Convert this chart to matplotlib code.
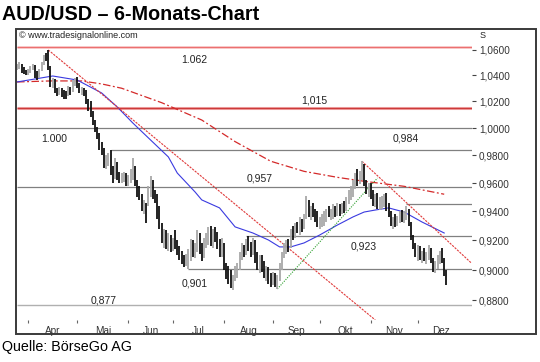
import numpy as np
import pandas as pd
import matplotlib
matplotlib.use("Agg")
import matplotlib.pyplot as plt
from matplotlib.ticker import NullLocator, NullFormatter
from matplotlib.patches import Rectangle

plt.rcParams['font.family'] = ['Liberation Sans', 'DejaVu Sans']

# daily AUD/USD bars, 25.03. - 19.12.2013
dates = pd.bdate_range('2013-03-25', '2013-12-19')

high = [1.0490, 1.0500, 1.0490, 1.0460, 1.0440, 1.0450, 1.0475, 1.0490, 1.0480, 1.0430,
        1.0450, 1.0500, 1.0560, 1.0570, 1.0597, 1.0470, 1.0380, 1.0370, 1.0300, 1.0310,
        1.0300, 1.0290, 1.0280, 1.0320, 1.0310, 1.0360, 1.0380, 1.0385, 1.0340, 1.0310,
        1.0300, 1.0290, 1.0220, 1.0200, 1.0130, 1.0060, 1.0010, 0.9960, 0.9900, 0.9850,
        0.9800, 0.9820, 0.9840, 0.9720, 0.9780, 0.9750, 0.9680, 0.9670, 0.9680, 0.9670,
        0.9660, 0.9700, 0.9780, 0.9720, 0.9620, 0.9580, 0.9520, 0.9480, 0.9460, 0.9580,
        0.9650, 0.9620, 0.9550, 0.9520, 0.9440, 0.9320, 0.9280, 0.9270, 0.9250, 0.9240,
        0.9220, 0.9270, 0.9200, 0.9160, 0.9130, 0.9100, 0.9110, 0.9140, 0.9210, 0.9200,
        0.9180, 0.9270, 0.9250, 0.9180, 0.9220, 0.9250, 0.9290, 0.9300, 0.9280, 0.9290,
        0.9260, 0.9210, 0.9220, 0.9180, 0.9050, 0.9030, 0.9000, 0.8970, 0.9030, 0.9050,
        0.9120, 0.9180, 0.9170, 0.9210, 0.9230, 0.9190, 0.9220, 0.9200, 0.9120, 0.9100,
        0.9100, 0.9060, 0.9030, 0.9020, 0.8980, 0.8990, 0.8980, 0.8970, 0.9050, 0.9120,
        0.9180, 0.9200, 0.9210, 0.9280, 0.9300, 0.9320, 0.9330, 0.9360, 0.9350, 0.9380,
        0.9510, 0.9480, 0.9440, 0.9460, 0.9420, 0.9400, 0.9360, 0.9380, 0.9400, 0.9420,
        0.9440, 0.9420, 0.9450, 0.9440, 0.9460, 0.9450, 0.9460, 0.9470, 0.9500, 0.9550,
        0.9580, 0.9620, 0.9670, 0.9700, 0.9690, 0.9757, 0.9740, 0.9620, 0.9600, 0.9600,
        0.9550, 0.9520, 0.9530, 0.9500, 0.9510, 0.9520, 0.9530, 0.9460, 0.9400, 0.9360,
        0.9380, 0.9370, 0.9400, 0.9410, 0.9400, 0.9440, 0.9420, 0.9330, 0.9240, 0.9180,
        0.9170, 0.9160, 0.9130, 0.9150, 0.9120, 0.9170, 0.9150, 0.9080, 0.9060, 0.9100,
        0.9130, 0.9150, 0.9080, 0.9000]

low = [1.0440, 1.0445, 1.0420, 1.0410, 1.0405, 1.0400, 1.0420, 1.0440, 1.0380, 1.0360,
       1.0380, 1.0430, 1.0480, 1.0510, 1.0440, 1.0310, 1.0300, 1.0260, 1.0240, 1.0250,
       1.0230, 1.0220, 1.0215, 1.0240, 1.0250, 1.0270, 1.0320, 1.0300, 1.0260, 1.0250,
       1.0240, 1.0180, 1.0130, 1.0080, 1.0020, 0.9970, 0.9920, 0.9840, 0.9800, 0.9710,
       0.9700, 0.9720, 0.9660, 0.9600, 0.9630, 0.9620, 0.9600, 0.9600, 0.9610, 0.9580,
       0.9580, 0.9600, 0.9620, 0.9580, 0.9500, 0.9480, 0.9400, 0.9380, 0.9320, 0.9440,
       0.9500, 0.9490, 0.9460, 0.9350, 0.9280, 0.9180, 0.9150, 0.9140, 0.9130, 0.9120,
       0.9130, 0.9140, 0.9100, 0.9070, 0.9040, 0.9020, 0.9030, 0.9010, 0.9060, 0.9090,
       0.9080, 0.9120, 0.9110, 0.9060, 0.9080, 0.9150, 0.9170, 0.9160, 0.9150, 0.9190,
       0.9140, 0.9090, 0.9090, 0.9000, 0.8940, 0.8910, 0.8880, 0.8870, 0.8930, 0.8950,
       0.9000, 0.9070, 0.9090, 0.9100, 0.9130, 0.9090, 0.9100, 0.9050, 0.9000, 0.8980,
       0.8990, 0.8950, 0.8930, 0.8910, 0.8890, 0.8900, 0.8890, 0.8875, 0.8930, 0.9000,
       0.9080, 0.9110, 0.9120, 0.9150, 0.9200, 0.9220, 0.9250, 0.9240, 0.9260, 0.9280,
       0.9350, 0.9360, 0.9340, 0.9360, 0.9330, 0.9290, 0.9280, 0.9290, 0.9300, 0.9330,
       0.9360, 0.9340, 0.9350, 0.9360, 0.9370, 0.9370, 0.9380, 0.9390, 0.9400, 0.9450,
       0.9480, 0.9500, 0.9560, 0.9580, 0.9590, 0.9620, 0.9580, 0.9520, 0.9500, 0.9490,
       0.9440, 0.9430, 0.9420, 0.9410, 0.9420, 0.9430, 0.9400, 0.9360, 0.9300, 0.9280,
       0.9290, 0.9300, 0.9320, 0.9330, 0.9320, 0.9340, 0.9300, 0.9200, 0.9140, 0.9090,
       0.9060, 0.9070, 0.9050, 0.9060, 0.9040, 0.9070, 0.9050, 0.8990, 0.8980, 0.9010,
       0.9040, 0.9050, 0.8960, 0.8900]

close = [1.0470, 1.0485, 1.0435, 1.0425, 1.0420, 1.0430, 1.0460, 1.0475, 1.0400, 1.0390,
         1.0440, 1.0490, 1.0550, 1.0540, 1.0460, 1.0330, 1.0360, 1.0280, 1.0270, 1.0280,
         1.0260, 1.0250, 1.0240, 1.0300, 1.0270, 1.0340, 1.0360, 1.0320, 1.0280, 1.0290,
         1.0270, 1.0200, 1.0150, 1.0110, 1.0040, 1.0000, 0.9940, 0.9860, 0.9830, 0.9750,
         0.9760, 0.9780, 0.9700, 0.9660, 0.9720, 0.9650, 0.9620, 0.9640, 0.9660, 0.9600,
         0.9630, 0.9680, 0.9700, 0.9600, 0.9530, 0.9500, 0.9420, 0.9450, 0.9440, 0.9550,
         0.9600, 0.9520, 0.9480, 0.9380, 0.9300, 0.9220, 0.9250, 0.9180, 0.9200, 0.9150,
         0.9190, 0.9160, 0.9140, 0.9100, 0.9060, 0.9050, 0.9080, 0.9100, 0.9180, 0.9120,
         0.9150, 0.9240, 0.9130, 0.9100, 0.9200, 0.9220, 0.9250, 0.9200, 0.9260, 0.9220,
         0.9170, 0.9120, 0.9180, 0.9020, 0.8970, 0.8940, 0.8920, 0.8950, 0.9000, 0.9020,
         0.9100, 0.9140, 0.9120, 0.9190, 0.9160, 0.9120, 0.9180, 0.9080, 0.9030, 0.9070,
         0.9010, 0.8980, 0.9000, 0.8940, 0.8930, 0.8970, 0.8900, 0.8950, 0.9030, 0.9100,
         0.9150, 0.9180, 0.9160, 0.9250, 0.9230, 0.9300, 0.9280, 0.9340, 0.9300, 0.9360,
         0.9460, 0.9400, 0.9420, 0.9380, 0.9360, 0.9320, 0.9330, 0.9350, 0.9370, 0.9400,
         0.9380, 0.9390, 0.9420, 0.9380, 0.9440, 0.9400, 0.9440, 0.9420, 0.9480, 0.9520,
         0.9550, 0.9600, 0.9640, 0.9620, 0.9660, 0.9680, 0.9600, 0.9560, 0.9580, 0.9510,
         0.9460, 0.9500, 0.9450, 0.9470, 0.9480, 0.9500, 0.9420, 0.9380, 0.9320, 0.9340,
         0.9310, 0.9350, 0.9380, 0.9360, 0.9380, 0.9420, 0.9320, 0.9220, 0.9160, 0.9120,
         0.9140, 0.9090, 0.9100, 0.9080, 0.9100, 0.9140, 0.9060, 0.9010, 0.9030, 0.9080,
         0.9110, 0.9070, 0.8980, 0.8920]

# moving averages, read at single days (bar index)
blue_idx = [0, 16, 27, 38, 45, 52, 60, 68, 72, 80, 83, 91, 98, 106, 113, 118, 123, 129,
            136, 144, 151, 156, 161, 167, 174, 182, 192]
blue_ma = [1.0348, 1.0394, 1.0363, 1.0264, 1.0158, 1.0038, 0.9912, 0.9788, 0.9672, 0.9537,
           0.9481, 0.9425, 0.9293, 0.9251, 0.9203, 0.9156, 0.9156, 0.9183, 0.9237, 0.9306,
           0.9362, 0.9396, 0.9410, 0.9425, 0.9396, 0.9327, 0.9251]

red_idx = [0, 15, 29, 38, 47, 65, 83, 98, 114, 129, 144, 156, 174, 192]
red_ma = [1.0348, 1.0356, 1.0356, 1.0333, 1.0300, 1.0190, 1.0060, 0.9900, 0.9757, 0.9684,
          0.9641, 0.9613, 0.9577, 0.9521]

# trend lines: (start bar, start price, end bar, end price)
trend_apr = (14, 1.0597, 161, 0.8673)
trend_okt = (155, 0.9757, 204, 0.9050)
trend_aug = (117, 0.8875, 162, 0.9636)

# horizontal levels
levels = [1.062, 1.015, 1.000, 0.984, 0.957, 0.945, 0.923, 0.901, 0.877]
level_from = [0, 0, 0, 42, 0, 175, 103, 77, 0]
level_text = ['1.062', '1,015', '1.000', '0,984', '0,957', '', '0,923', '0,901', '0,877']
level_text_pos = [(79.6, 1.0518), (133.5, 1.0203), (16.6, 0.9920), (174.9, 0.9920),
                  (108.8, 0.9636), None, (155.6, 0.9162), (80, 0.8914), (38.7, 0.8796)]

y_ticks = [0.88, 0.90, 0.92, 0.94, 0.96, 0.98, 1.00, 1.02, 1.04, 1.06]
months = ['Apr', 'Mai', 'Jun', 'Jul', 'Aug', 'Sep', 'Okt', 'Nov', 'Dez']

W, H = 540, 362
fig = plt.figure(figsize=(W / 100, H / 100), dpi=100)
ax = fig.add_axes([16 / W, 1 - 320 / H, 456 / W, 291 / H])
ax.set_yscale('log')
ax.set_ylim(0.86727, 1.07628)
ax.set_xlim(-0.5, 204.5)

n = len(close)
idx = np.arange(n)

# levels
for lv, x0 in zip(levels, level_from):
    if lv == 1.062:
        ax.hlines(lv, x0, 204.5, color='#f8c8c8', lw=2.0, zorder=1)
        ax.hlines(lv, x0, 204.5, color='#ec7070', lw=0.8, zorder=1)
    elif lv == 1.015:
        ax.hlines(lv, x0, 204.5, color='#f4b0b0', lw=2.2, zorder=1)
        ax.hlines(lv, x0, 204.5, color='#cc3a3a', lw=1.0, zorder=1)
    elif lv == 0.877:
        ax.hlines(lv, x0, 204.5, color='#b0b0b0', lw=1.0, zorder=1)
    else:
        ax.hlines(lv, x0, 204.5, color='#808080', lw=0.9, zorder=1)

for t, pos in zip(level_text, level_text_pos):
    if t:
        ax.text(pos[0], pos[1], t, fontsize=7.5, ha='center', va='center', color='#222222')

# moving averages
ax.plot(red_idx, red_ma, color='#d42a2a', lw=0.9, dashes=(6, 2, 1.5, 2), zorder=2)
ax.plot(blue_idx, blue_ma, color='#3a3ae0', lw=0.8, zorder=2)

# trend lines
for tl, col, ds in [(trend_apr, '#e03a3a', (2, 1)), (trend_okt, '#e03a3a', (2, 1)),
                    (trend_aug, '#30a030', (1, 1.2))]:
    ax.plot([tl[0], tl[2]], [tl[1], tl[3]], color=col, lw=0.8, dashes=ds, zorder=2)

# bars
prev = np.r_[close[0], close[:-1]]
cols = ['#a8a8a8' if c >= p else '#111111' for c, p in zip(close, prev)]
ax.vlines(idx, low, high, colors=cols, lw=1.3, zorder=3)

# axes
for s in ax.spines.values():
    s.set_visible(False)
ax.yaxis.tick_right()
ax.yaxis.set_minor_locator(NullLocator())
ax.yaxis.set_minor_formatter(NullFormatter())
ax.set_yticks(y_ticks)
ax.set_yticklabels([('%.4f' % v).replace('.', ',') for v in y_ticks])
ax.tick_params(axis='y', which='major', length=3, pad=2, labelsize=7.2,
               color='#444444', labelcolor='#333333')

mstart = [int(np.argmax((dates.month == m) & (dates.year == 2013))) for m in range(4, 13)]
mmid = [(a + b) / 2 for a, b in zip(mstart, mstart[1:] + [mstart[-1] + 21])]
ax.set_xticks(mstart)
ax.set_xticklabels([''] * len(mstart))
ax.set_xticks(mmid, minor=True)
ax.set_xticklabels(months, minor=True)
ax.tick_params(axis='x', which='major', length=2.5, color='#666666')
ax.tick_params(axis='x', which='minor', length=0, pad=4, labelsize=7.2, labelcolor='#333333')

# frame and texts
fig.patches.append(Rectangle((16 / W, 1 - 334 / H), 520 / W, 305 / H, fill=False,
                             ec='#3a3a3a', lw=1.4, transform=fig.transFigure))
fig.text(19 / W, 1 - 36 / H, '\u00a9 www.tradesignalonline.com', fontsize=6.5,
         va='center', color='#222222')
fig.text(480 / W, 1 - 36 / H, 'S', fontsize=6.5, va='center', color='#222222')
fig.text(2 / W, 1 - 14 / H, 'AUD/USD \u2013 6-Monats-Chart', fontsize=14.2, weight='bold',
         va='center')
fig.text(2 / W, 1 - 347 / H, 'Quelle: B\u00f6rseGo AG', fontsize=10.3, va='center')

fig.savefig('out.png', dpi=100, facecolor='white')
